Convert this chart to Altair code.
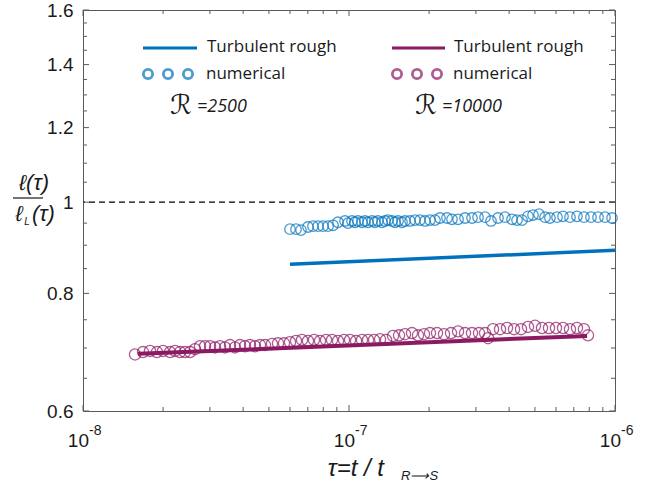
import altair as alt
import pandas as pd

# ---------------- data ----------------
blue_num_x = [6.00e-8, 6.32e-8, 6.60e-8, 7.01e-8, 7.32e-8, 7.65e-8, 7.99e-8, 8.34e-8, 8.71e-8, 9.09e-8,
              9.66e-8, 9.91e-8, 1.026e-7, 1.053e-7, 1.081e-7, 1.119e-7, 1.148e-7, 1.179e-7, 1.221e-7, 1.252e-7,
              1.285e-7, 1.331e-7, 1.366e-7, 1.402e-7, 1.451e-7, 1.489e-7, 1.529e-7, 1.582e-7, 1.624e-7, 1.696e-7,
              1.771e-7, 1.849e-7, 1.931e-7, 2.016e-7, 2.105e-7, 2.198e-7, 2.336e-7, 2.439e-7, 2.570e-7, 2.730e-7,
              2.900e-7, 3.055e-7, 3.246e-7, 3.419e-7, 3.633e-7, 3.859e-7, 4.101e-7, 4.282e-7, 4.472e-7, 4.709e-7,
              4.918e-7, 5.180e-7, 5.457e-7, 5.694e-7, 6.053e-7, 6.375e-7, 6.772e-7, 7.195e-7, 7.644e-7, 8.123e-7,
              8.633e-7, 9.171e-7, 9.743e-7]
blue_num_y = [0.936, 0.936, 0.934, 0.941, 0.943, 0.943, 0.943, 0.943, 0.945, 0.952,
              0.955, 0.950, 0.955, 0.952, 0.955, 0.952, 0.955, 0.952, 0.955, 0.952,
              0.955, 0.952, 0.955, 0.957, 0.955, 0.952, 0.955, 0.952, 0.955, 0.955,
              0.957, 0.957, 0.955, 0.957, 0.957, 0.962, 0.962, 0.959, 0.959, 0.962,
              0.962, 0.964, 0.964, 0.955, 0.962, 0.964, 0.959, 0.957, 0.957, 0.966,
              0.969, 0.971, 0.964, 0.962, 0.964, 0.966, 0.964, 0.966, 0.964, 0.964,
              0.964, 0.964, 0.962]

purple_num_x = [1.569e-8, 1.681e-8, 1.786e-8, 1.897e-8, 1.999e-8, 2.124e-8, 2.218e-8, 2.316e-8, 2.418e-8, 2.525e-8,
                2.637e-8, 2.754e-8, 2.876e-8, 3.003e-8, 3.135e-8, 3.273e-8, 3.418e-8, 3.570e-8, 3.728e-8, 3.893e-8,
                4.064e-8, 4.244e-8, 4.432e-8, 4.628e-8, 4.833e-8, 5.134e-8, 5.409e-8, 5.696e-8, 6.000e-8, 6.320e-8,
                6.658e-8, 7.010e-8, 7.386e-8, 7.780e-8, 8.195e-8, 8.632e-8, 9.090e-8, 9.577e-8, 1.009e-7, 1.063e-7,
                1.119e-7, 1.179e-7, 1.242e-7, 1.308e-7, 1.378e-7, 1.464e-7, 1.542e-7, 1.624e-7, 1.725e-7, 1.817e-7,
                1.914e-7, 2.016e-7, 2.142e-7, 2.276e-7, 2.418e-7, 2.570e-7, 2.730e-7, 2.900e-7, 3.081e-7, 3.246e-7,
                3.332e-7, 3.479e-7, 3.696e-7, 3.927e-7, 4.172e-7, 4.433e-7, 4.709e-7, 5.003e-7, 5.315e-7, 5.647e-7,
                6.000e-7, 6.375e-7, 6.772e-7, 7.195e-7, 7.644e-7, 7.915e-7]
purple_num_y = [0.689, 0.693, 0.695, 0.693, 0.695, 0.693, 0.695, 0.693, 0.693, 0.693,
                0.698, 0.703, 0.703, 0.703, 0.701, 0.703, 0.701, 0.705, 0.701, 0.705,
                0.703, 0.705, 0.703, 0.705, 0.705, 0.707, 0.708, 0.708, 0.710, 0.712,
                0.714, 0.712, 0.714, 0.712, 0.714, 0.714, 0.712, 0.714, 0.714, 0.712,
                0.714, 0.714, 0.714, 0.715, 0.714, 0.721, 0.722, 0.724, 0.726, 0.722,
                0.724, 0.726, 0.726, 0.724, 0.726, 0.729, 0.726, 0.726, 0.726, 0.726,
                0.717, 0.733, 0.733, 0.735, 0.733, 0.733, 0.737, 0.739, 0.735, 0.735,
                0.735, 0.735, 0.733, 0.735, 0.733, 0.722]

blue_line_x = [6.00e-8, 1.0e-6]
blue_line_y = [0.859, 0.889]
purple_line_x = [1.61e-8, 7.85e-7]
purple_line_y = [0.690, 0.721]

x_major = [1e-8, 1e-7, 1e-6]
x_major_exp = ["-8", "-7", "-6"]
x_minor = [2e-8, 3e-8, 4e-8, 5e-8, 6e-8, 7e-8, 8e-8, 9e-8,
           2e-7, 3e-7, 4e-7, 5e-7, 6e-7, 7e-7, 8e-7, 9e-7]
y_major = [0.6, 0.8, 1.0, 1.2, 1.4, 1.6]
y_minor = [0.65, 0.7, 0.75, 0.85, 0.9, 0.95, 1.05, 1.1, 1.15, 1.25, 1.3, 1.35, 1.45, 1.5, 1.55]
ref_level = [1.0]

# ---------------- styling ----------------
W, H = 532, 401
BLUE = "#0072BD"
PURPLE = "#8C1A63"
AXC = "#5a5a5a"
TXT = "#1a1a1a"
LEG_FONT = "Open Sans"
AX_FONT = "Liberation Sans"

xscale = alt.Scale(type="log", domain=[1e-8, 1e-6])
yscale = alt.Scale(type="log", domain=[0.6, 1.6])
yaxis = alt.Axis(values=y_major, format=".1~f", ticks=False, domain=False, grid=False,
                 title=None, labelFontSize=19, labelFont=AX_FONT, labelColor=TXT, labelPadding=10)


def X(f):
    return alt.X(f"{f}:Q", scale=xscale, axis=None)


def Y(f):
    return alt.Y(f"{f}:Q", scale=yscale, axis=yaxis)


df_ref = pd.DataFrame({"y": ref_level})
dashed = alt.Chart(df_ref).mark_rule(color="black", strokeDash=[6, 4], strokeWidth=1.3).encode(y=Y("y"))

df_bn = pd.DataFrame({"x": blue_num_x, "y": blue_num_y})
df_pn = pd.DataFrame({"x": purple_num_x, "y": purple_num_y})
df_bl = pd.DataFrame({"x": blue_line_x, "y": blue_line_y})
df_pl = pd.DataFrame({"x": purple_line_x, "y": purple_line_y})

blue_pts = alt.Chart(df_bn).mark_point(shape="circle", filled=False, color=BLUE, size=110,
                                       strokeWidth=1.3).encode(x=X("x"), y=Y("y"))
purple_pts = alt.Chart(df_pn).mark_point(shape="circle", filled=False, color=PURPLE, size=125,
                                         strokeWidth=1.3).encode(x=X("x"), y=Y("y"))
blue_ln = alt.Chart(df_bl).mark_line(color=BLUE, strokeWidth=3.5).encode(x=X("x"), y=Y("y"))
purple_ln = alt.Chart(df_pl).mark_line(color=PURPLE, strokeWidth=4).encode(x=X("x"), y=Y("y"))

# inward ticks on all four sides
df_xM = pd.DataFrame({"v": x_major, "e": x_major_exp})
df_xm = pd.DataFrame({"v": x_minor})
df_yM = pd.DataFrame({"v": y_major})
df_ym = pd.DataFrame({"v": y_minor})
tick_layers = []
for df, ln in [(df_xM, 6), (df_xm, 4)]:
    tick_layers.append(alt.Chart(df).mark_rule(color=AXC, strokeWidth=1).encode(
        x=X("v"), y=alt.value(H), y2=alt.value(H - ln)))
    tick_layers.append(alt.Chart(df).mark_rule(color=AXC, strokeWidth=1).encode(
        x=X("v"), y=alt.value(0), y2=alt.value(ln)))
for df, ln in [(df_yM, 6), (df_ym, 4)]:
    tick_layers.append(alt.Chart(df).mark_rule(color=AXC, strokeWidth=1).encode(
        y=Y("v"), x=alt.value(0), x2=alt.value(ln)))
    tick_layers.append(alt.Chart(df).mark_rule(color=AXC, strokeWidth=1).encode(
        y=Y("v"), x=alt.value(W), x2=alt.value(W - ln)))

# x tick labels 10^n
xlab_base = alt.Chart(df_xM).mark_text(text="10", fontSize=19, font=AX_FONT, color=TXT,
                                       align="right", baseline="middle", dx=6).encode(
    x=X("v"), y=alt.value(431))
xlab_exp = alt.Chart(df_xM).mark_text(fontSize=14, font=AX_FONT, color=TXT,
                                      align="left", baseline="middle", dx=6).encode(
    x=X("v"), y=alt.value(421), text="e:N")


def txt(s, x, y, size, font=LEG_FONT, style="normal", align="left", color=TXT):
    return alt.Chart(pd.DataFrame({"t": [s]})).mark_text(
        fontSize=size, font=font, fontStyle=style, align=align, baseline="middle", color=color
    ).encode(x=alt.value(x), y=alt.value(y), text="t:N")


def leg_line(x1, x2, y, color):
    return alt.Chart(pd.DataFrame({"a": [0]})).mark_rule(color=color, strokeWidth=3).encode(
        x=alt.value(x1), x2=alt.value(x2), y=alt.value(y))


def leg_circle(x, y, color):
    return alt.Chart(pd.DataFrame({"a": [0]})).mark_point(
        shape="circle", filled=False, color=color, size=85, strokeWidth=2.8).encode(
        x=alt.value(x), y=alt.value(y))


legend = [
    leg_line(60, 114, 38, BLUE),
    txt("Turbulent rough", 124, 37, 17),
    leg_circle(65, 64, BLUE), leg_circle(85, 64, BLUE), leg_circle(105, 64, BLUE),
    txt("numerical", 123, 64, 17),
    txt("\u211b", 98, 96, 27, font="DejaVu Sans", align="center"),
    txt("=2500", 114, 97, 18, style="italic"),
    leg_line(309, 362, 38, PURPLE),
    txt("Turbulent rough", 371, 37, 17),
    leg_circle(314, 64, PURPLE), leg_circle(334, 64, PURPLE), leg_circle(354, 64, PURPLE),
    txt("numerical", 370, 64, 17),
    txt("\u211b", 343, 96, 27, font="DejaVu Sans", align="center"),
    txt("=10000", 359, 97, 18, style="italic"),
]

# axis titles
titles = [
    txt("\u03c4=t / t", 301, 459, 24, font=AX_FONT, style="italic", align="right"),
    txt("R\u27f6S", 318, 466, 13, font=AX_FONT, style="italic", align="left"),
    txt("\u2113(\u03c4)", -49, 173, 22, font=AX_FONT, style="italic", align="center"),
    alt.Chart(pd.DataFrame({"a": [0]})).mark_rule(color=TXT, strokeWidth=1.2).encode(
        x=alt.value(-70), x2=alt.value(-40), y=alt.value(188)),
    txt("\u2113", -64, 204, 22, font=AX_FONT, style="italic", align="center"),
    txt("L", -56, 212, 10, font=AX_FONT, style="italic", align="center"),
    txt("(\u03c4)", -51, 204, 22, font=AX_FONT, style="italic", align="left"),
]

chart = alt.layer(
    dashed, *tick_layers, blue_ln, purple_ln, blue_pts, purple_pts,
    xlab_base, xlab_exp, *legend, *titles
).properties(
    width=W, height=H,
    padding={"left": 83, "top": 10, "right": 40, "bottom": 71},
    autosize=alt.AutoSizeParams(type="none"),
).configure_view(stroke=AXC, strokeWidth=1)

chart.save("out.html", embed_options={"renderer": "svg", "actions": False})
